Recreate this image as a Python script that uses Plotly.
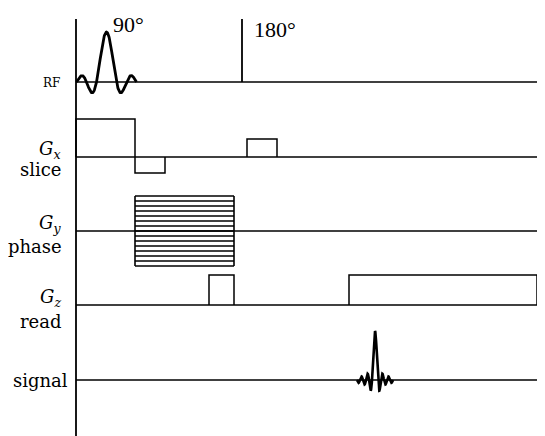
import numpy as np
import plotly.graph_objects as go

# ---- diagram data (time in diagram units, amplitude in diagram units) ----
channels = ["RF", "Gx", "Gy", "Gz", "signal"]
baselines = [354, 279, 205, 131, 56]
t_end = 469
axis_top = 417

# 90 degree sinc RF pulse
rf90_center = 30.5
rf90_amp = 50
rf90_zero = 10
rf90_lobes = 3
# 180 degree hard pulse
rf180_time = 166
rf180_height = 63

# slice gradient lobes
gx_start = [0, 59, 171]
gx_end = [59, 89, 201]
gx_amp = [38, -16, 18]

# phase encoding table
gy_start = 59
gy_end = 158
gy_levels = [-35, -30, -25, -20, -15, -10, -5, 0, 5, 10, 15, 20, 25, 30, 35]

# read gradient lobes
gz_start = [133, 273]
gz_end = [158, 461]
gz_amp = [30, 30]

# echo signal
echo_center = 299
echo_amp = 49
echo_zero = 3
echo_lobes = 6

# labels
label_text = ["RF", "<i>G</i><sub><i>x</i></sub>", "slice", "<i>G</i><sub><i>y</i></sub>", "phase",
              "<i>G</i><sub><i>z</i></sub>", "read", "signal"]
label_y = [353.5, 286, 267, 212, 190, 138, 115, 56]
label_x = [-14, -13, -13, -13, -12, -13, -12, -6]
label_size = [12, 18, 18, 18, 18, 18, 18, 18]

flip_text = ["90°", "180°"]
flip_x = [35, 176]
flip_y = [412, 407]

BLACK = "#000000"
fig = go.Figure()


def add_line(x, y, w=1.5):
    fig.add_trace(go.Scatter(x=x, y=y, mode="lines", line=dict(color=BLACK, width=w),
                             hoverinfo="skip", showlegend=False))


# vertical time axis
add_line([0, 0], [0, axis_top], 1.8)

# baselines
for b in baselines:
    add_line([0, t_end], [b, b], 1.5)

# RF 90 sinc
t = np.linspace(-rf90_lobes * rf90_zero, rf90_lobes * rf90_zero, 300)
add_line(rf90_center + t, baselines[0] + rf90_amp * np.sinc(t / rf90_zero), 2.8)
# RF 180
add_line([rf180_time, rf180_time], [baselines[0], baselines[0] + rf180_height], 1.8)

# Gx lobes
for s, e, a in zip(gx_start, gx_end, gx_amp):
    b = baselines[1]
    add_line([s, s, e, e], [b, b + a, b + a, b], 1.5)

# Gy phase table
b = baselines[2]
lo, hi = min(gy_levels), max(gy_levels)
add_line([gy_start, gy_start], [b + lo, b + hi], 1.6)
add_line([gy_end, gy_end], [b + lo, b + hi], 1.6)
for lv in gy_levels:
    add_line([gy_start, gy_end], [b + lv, b + lv], 1.5)

# Gz lobes
for s, e, a in zip(gz_start, gz_end, gz_amp):
    b = baselines[3]
    add_line([s, s, e, e], [b, b + a, b + a, b], 1.5)

# echo
t = np.linspace(-echo_lobes * echo_zero, echo_lobes * echo_zero, 600)
add_line(echo_center + t, baselines[4] + echo_amp * np.sinc(t / echo_zero), 2.6)

annotations = []
for txt, x, y, sz in zip(label_text, label_x, label_y, label_size):
    annotations.append(dict(x=x, y=y, text=txt, showarrow=False, xanchor="right", yanchor="middle",
                            font=dict(family="DejaVu Serif", size=sz, color=BLACK)))
for txt, x, y in zip(flip_text, flip_x, flip_y):
    annotations.append(dict(x=x, y=y, text=txt, showarrow=False, xanchor="left", yanchor="middle",
                            font=dict(family="Liberation Serif", size=22, color=BLACK)))

# the page body adds an 8 px offset, so the figure is 8 px smaller and ranges start there
fig.update_layout(
    width=537, height=428,
    margin=dict(l=0, r=0, t=0, b=0),
    paper_bgcolor="white", plot_bgcolor="white",
    xaxis=dict(range=[-68, t_end], visible=False, fixedrange=True),
    yaxis=dict(range=[0, 428], visible=False, fixedrange=True),
    annotations=annotations,
    showlegend=False,
)

fig.write_html("out.html")
